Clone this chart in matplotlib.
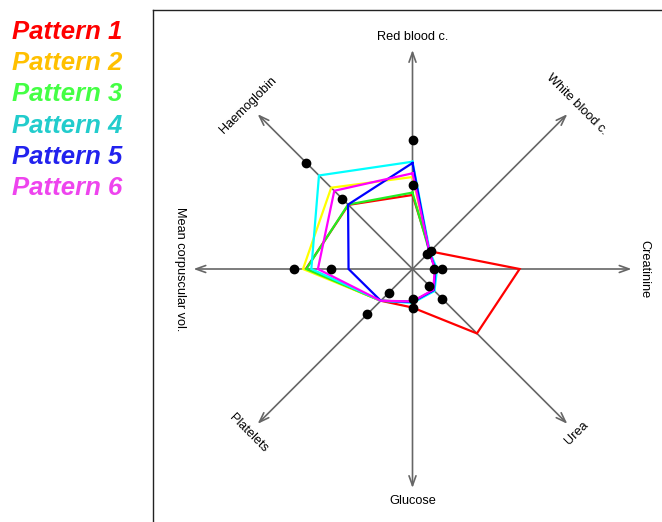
import numpy as np
import matplotlib
matplotlib.use("Agg")
import matplotlib.pyplot as plt

plt.rcParams['font.family'] = ['Liberation Sans', 'DejaVu Sans']

categories = ["Red blood c.", "White blood c.", "Creatinine", "Urea",
              "Glucose", "Platelets", "Mean corpuscular vol.", "Haemoglobin"]

# values as fraction of axis (arrow) length
pattern1 = [0.338, 0.114, 0.489, 0.416, 0.176, 0.205, 0.487, 0.414]
pattern2 = [0.420, 0.110, 0.105, 0.137, 0.150, 0.205, 0.500, 0.525]
pattern3 = [0.349, 0.110, 0.105, 0.137, 0.150, 0.205, 0.485, 0.416]
pattern4 = [0.490, 0.112, 0.112, 0.142, 0.155, 0.205, 0.462, 0.604]
pattern5 = [0.484, 0.108, 0.105, 0.137, 0.150, 0.205, 0.292, 0.416]
pattern6 = [0.437, 0.110, 0.102, 0.134, 0.148, 0.205, 0.432, 0.505]

ref_low = [0.384, 0.096, 0.098, 0.108, 0.137, 0.152, 0.374, 0.455]
ref_high = [0.589, 0.118, 0.135, 0.192, 0.177, 0.292, 0.541, 0.687]

pattern_names = ["Pattern 1", "Pattern 2", "Pattern 3", "Pattern 4", "Pattern 5", "Pattern 6"]
line_colors = ["#FF0000", "#FFFF00", "#22EE22", "#00FFFF", "#0000FF", "#FF00FF"]
text_colors = ["#FF0000", "#FFC000", "#44FF44", "#22CCCC", "#2222EE", "#EE44EE"]
patterns = [pattern1, pattern2, pattern3, pattern4, pattern5, pattern6]

W, H = 662, 522
fig = plt.figure(figsize=(W / 100, H / 100), dpi=100)

# axes box: left 153px, top 10px, square 519px (extends beyond right/bottom)
ax = fig.add_axes([153 / W, (H - 528) / H, 519 / W, 518 / H])
lim = 259.5 / 219
ax.set_xlim(-lim, lim)
ax.set_ylim(-lim * 518 / 519, lim * 518 / 519)
ax.set_xticks([])
ax.set_yticks([])
for s in ax.spines.values():
    s.set_linewidth(1.0)
    s.set_color("#222222")

n = len(categories)
angles_deg = 90 - 45 * np.arange(n)
angles = np.deg2rad(angles_deg)
cx, cy = np.cos(angles), np.sin(angles)

# arrows
for i in range(n):
    ax.annotate("", xy=(cx[i], cy[i]), xytext=(0, 0),
                arrowprops=dict(arrowstyle="->,head_length=0.7,head_width=0.25",
                                color="#666666", lw=1.2, shrinkA=0, shrinkB=0),
                zorder=1)

# labels (perpendicular to each axis, just beyond the arrow tip)
label_r = 1.06
for i, lab in enumerate(categories):
    rot = (angles_deg[i] % 180) - 90
    ax.text(label_r * cx[i], label_r * cy[i], lab, rotation=rot,
            rotation_mode="anchor", ha="center", va="center",
            fontsize=9.2, color="black")

# polygons
for vals, col in zip(patterns, line_colors):
    v = np.array(vals + vals[:1])
    a = np.concatenate([angles, angles[:1]])
    ax.plot(v * np.cos(a), v * np.sin(a), color=col, lw=1.6, zorder=3,
            solid_joinstyle="miter")

# reference dots
for ref in (ref_low, ref_high):
    r = np.array(ref)
    ax.plot(r * cx, r * cy, "o", color="black", ms=6, zorder=5)

# legend texts
for k, (name, col) in enumerate(zip(pattern_names, text_colors)):
    fig.text(12 / W, 1 - (32 + 31.2 * k) / H, name, color=col, fontsize=18.5,
             fontweight="bold", fontstyle="italic", ha="left", va="center")

fig.savefig("out.png", dpi=100)
